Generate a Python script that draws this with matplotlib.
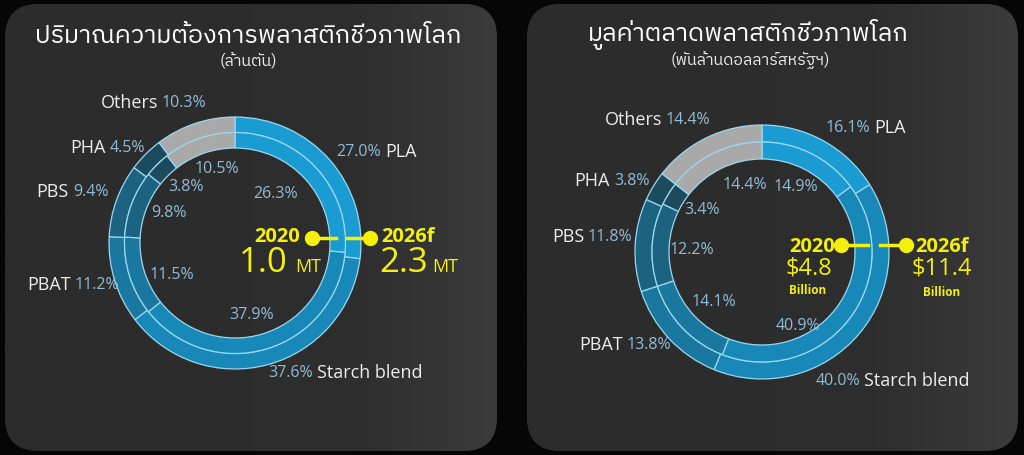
import numpy as np
import matplotlib
matplotlib.use("Agg")
import matplotlib.pyplot as plt
from matplotlib import font_manager
from matplotlib.patches import FancyBboxPatch
from matplotlib.colors import LinearSegmentedColormap
from fontTools.ttLib import TTFont

W, H = 1024, 456

# ---- data ----
materials = ["PLA", "Starch blend", "PBAT", "PBS", "PHA", "Others"]
demand_2020 = [26.3, 37.9, 11.5, 9.8, 3.8, 10.5]
demand_2026 = [27.0, 37.6, 11.2, 9.4, 4.5, 10.3]
market_2020 = [14.9, 40.9, 14.1, 12.2, 3.4, 14.4]
market_2026 = [16.1, 40.0, 13.8, 11.8, 3.8, 14.4]
demand_totals = ["1.0", "2.3"]
market_totals = ["$4.8", "$11.4"]
years = ["2020", "2026f"]
titles = ["ปริมาณความต้องการพลาสติกชีวภาพโลก", "มูลค่าตลาดพลาสติกชีวภาพโลก"]
subtitles = ["(ล้านตัน)", "(พันล้านดอลลาร์สหรัฐฯ)"]

seg_colors = ["#1a9bd2", "#1788b8", "#1a77a0", "#1c6382", "#1d4b5e", "#a9a9a9"]
edge = "#9ad8f0"
yellow = "#f4ef0c"
pct_col = "#8fbcd6"
name_col = "#ececec"


def thai_font():
    # installed families with Thai glyphs, loopless sans preferred
    found = []
    for f in font_manager.fontManager.ttflist:
        try:
            cmap = TTFont(f.fname, fontNumber=0, lazy=True).getBestCmap()
        except Exception:
            continue
        if cmap and 0x0E01 in cmap and f.name not in found:
            found.append(f.name)
    if not found:
        return None

    def score(n):
        s = 0
        if "Looped" in n:
            s += 4
        if "Thai" not in n:
            s += 2
        if "Sans" not in n:
            s += 1
        return s
    return sorted(found, key=score)[0]


th = thai_font()
latin = ["Open Sans", "DejaVu Sans"]
thai = [th] + latin if th else latin
plt.rcParams["font.family"] = latin


def py(y):
    return H - y


fig = plt.figure(figsize=(W / 100, H / 100), dpi=100, facecolor="#060606")
ax = fig.add_axes([0, 0, 1, 1])
ax.set_facecolor("#060606")

cmap_bg = LinearSegmentedColormap.from_list("bg", ["#2c2c2c", "#2e2e2e", "#3b3b3b"])
grad = np.linspace(0, 1, 256).reshape(1, -1) ** 2


def panel(x0, x1, y0, y1):
    p = FancyBboxPatch((x0, py(y1)), x1 - x0, y1 - y0,
                       boxstyle="round,pad=0,rounding_size=34",
                       facecolor="#2e2e2e", edgecolor="none", zorder=0)
    ax.add_patch(p)
    im = ax.imshow(grad, extent=(x0, x1, py(y1), py(y0)), cmap=cmap_bg,
                   aspect="auto", zorder=0.5)
    im.set_clip_path(p)


def donut(vals, c, r, w):
    ax.pie(vals, radius=r, center=(c[0], py(c[1])), startangle=90,
           counterclock=False, colors=seg_colors,
           wedgeprops=dict(width=w, edgecolor=edge, linewidth=0.9))


def outer_label(name, pct, x, y, pct_first=False):
    if pct_first:
        ax.text(x - 2, py(y), pct, color=pct_col, fontsize=11.5,
                ha="right", va="center")
        ax.text(x + 2, py(y), name, color=name_col, fontsize=13,
                ha="left", va="center")
    else:
        ax.text(x - 2, py(y), name, color=name_col, fontsize=13,
                ha="right", va="center")
        ax.text(x + 2, py(y), pct, color=pct_col, fontsize=11.5,
                ha="left", va="center")


panel(5, 497, 5, 452)
panel(527, 1018, 5, 452)

# ---- left: demand ----
cL = (235, 244)
donut(demand_2026, cL, 126, 15.5)
donut(demand_2020, cL, 110.5, 15.5)

ax.text(248, py(43), titles[0], color="white", fontsize=18.2, ha="center",
        va="baseline", family=thai)
ax.text(248, py(66), subtitles[0], color=name_col, fontsize=11.5, ha="center",
        va="baseline", family=thai)

left_out = [(383, 152, True), (315, 373, True), (73, 285, False),
            (71, 192, False), (108, 148, False), (160, 103, False)]
for name, v, (x, y, pf) in zip(materials, demand_2026, left_out):
    outer_label(name, f"{v:.1f}%", x, y, pf)

left_in = [(276, 194), (252, 315), (172, 275), (169, 213), (186, 187), (217, 169)]
for v, (x, y) in zip(demand_2020, left_in):
    ax.text(x, py(y), f"{v:.1f}%", color=pct_col, fontsize=11.5,
            ha="center", va="center")

ax.plot([312, 336], [py(239)] * 2, color=yellow, lw=2.5, zorder=5)
ax.plot([347, 370], [py(239)] * 2, color=yellow, lw=2.5, zorder=5)
ax.plot([312, 370], [py(239)] * 2, "o", color=yellow, ms=10, zorder=6)
ax.text(300, py(242), years[0], color=yellow, fontsize=14.5, fontweight="bold",
        ha="right", va="baseline")
ax.text(381, py(242), years[1], color=yellow, fontsize=14.5, fontweight="bold",
        ha="left", va="baseline")
ax.text(239, py(272), demand_totals[0], color=yellow, fontsize=25,
        ha="left", va="baseline")
ax.text(295, py(272), "MT", color=yellow, fontsize=13, ha="left", va="baseline")
ax.text(379, py(272), demand_totals[1], color=yellow, fontsize=25,
        ha="left", va="baseline")
ax.text(432, py(272), "MT", color=yellow, fontsize=13, ha="left", va="baseline")

# ---- right: market value ----
cR = (762, 253)
donut(market_2026, cR, 127, 17)
donut(market_2020, cR, 110, 17)

ax.text(748, py(41), titles[1], color="white", fontsize=18.2, ha="center",
        va="baseline", family=thai)
ax.text(750, py(65), subtitles[1], color=name_col, fontsize=11.5, ha="center",
        va="baseline", family=thai)

right_out = [(872, 128, True), (862, 381, True), (625, 345, False),
             (586, 237, False), (612, 181, False), (664, 120, False)]
for name, v, (x, y, pf) in zip(materials, market_2026, right_out):
    outer_label(name, f"{v:.1f}%", x, y, pf)

right_in = [(796, 187), (798, 326), (714, 302), (692, 250), (702, 210), (745, 185)]
for v, (x, y) in zip(market_2020, right_in):
    ax.text(x, py(y), f"{v:.1f}%", color=pct_col, fontsize=11.5,
            ha="center", va="center")

ax.plot([841, 868], [py(246)] * 2, color=yellow, lw=2.5, zorder=5)
ax.plot([880, 906], [py(246)] * 2, color=yellow, lw=2.5, zorder=5)
ax.plot([841, 906], [py(246)] * 2, "o", color=yellow, ms=10, zorder=6)
ax.text(835, py(252), years[0], color=yellow, fontsize=14.5, fontweight="bold",
        ha="right", va="baseline")
ax.text(915, py(252), years[1], color=yellow, fontsize=14.5, fontweight="bold",
        ha="left", va="baseline")
ax.text(809, py(274), market_totals[0], color=yellow, fontsize=17,
        ha="center", va="baseline")
ax.text(942, py(275), market_totals[1], color=yellow, fontsize=17,
        ha="center", va="baseline")
ax.text(808, py(291), "Billion", color=yellow, fontsize=8.5, fontweight="bold",
        ha="center", va="center")
ax.text(942, py(293), "Billion", color=yellow, fontsize=8.5, fontweight="bold",
        ha="center", va="center")

ax.set_xlim(0, W)
ax.set_ylim(0, H)
ax.set_aspect("auto")
ax.axis("off")

fig.savefig("out.png", dpi=100, facecolor=fig.get_facecolor())
